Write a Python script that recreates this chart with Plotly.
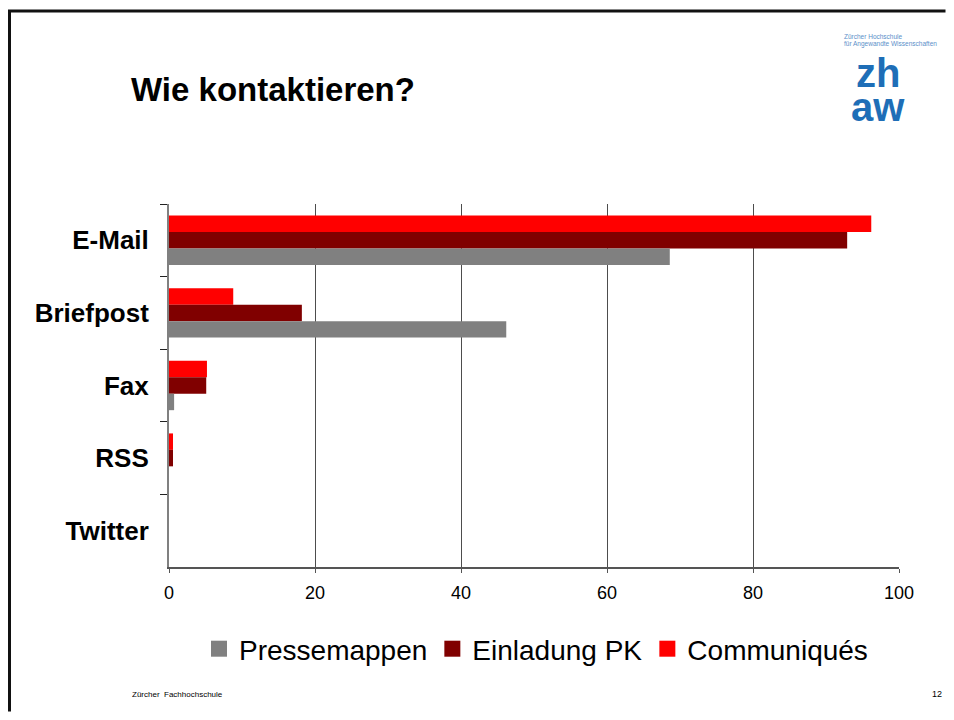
import plotly.graph_objects as go

categories = ["E-Mail", "Briefpost", "Fax", "RSS", "Twitter"]
series_names = ["Pressemappen", "Einladung PK", "Communiqués"]
pressemappen = [68.6, 46.2, 0.7, 0.0, 0.0]
einladung_pk = [92.9, 18.2, 5.1, 0.55, 0.0]
communiques = [96.2, 8.8, 5.2, 0.55, 0.0]
colors = ["#808080", "#800000", "#FF0000"]
x_ticks = [0, 20, 40, 60, 80, 100]

# the page body has an 8px margin; work in window pixels and convert
OFF = 8
W, H = 954 - 2 * OFF, 720 - 2 * OFF
L, R, T, B = 169, 899, 204, 567  # plot area in window pixels
PW, PH = R - L, B - T


def px(x):
    return (x - L) / PW


def py(y):
    return 1 - (y - T) / PH


FONT = "Liberation Sans, Arial, sans-serif"

fig = go.Figure()
# with reversed category axis the first trace sits at the top of each group
series = list(zip(series_names, [pressemappen, einladung_pk, communiques], colors))
for name, vals, col in reversed(series):
    fig.add_trace(go.Bar(y=categories, x=vals, name=name, orientation="h",
                         marker=dict(color=col, line=dict(width=0)), showlegend=False))
for name, vals, col in series:
    fig.add_trace(go.Scatter(y=[categories[0]], x=[None], name=name, mode="markers",
                             marker=dict(symbol="square", size=16, color=col),
                             showlegend=True, hoverinfo="skip"))

fig.update_layout(
    width=W, height=H,
    margin=dict(l=L - OFF, r=W - (R - OFF), t=T - OFF, b=H - (B - OFF), pad=0),
    paper_bgcolor="white", plot_bgcolor="white",
    barmode="group", bargap=0.32, bargroupgap=0,
    font=dict(family=FONT, color="black"),
    showlegend=True,
    legend=dict(orientation="h", x=px(536), y=py(649), xanchor="center", yanchor="middle",
                font=dict(size=28, family=FONT, color="black"), itemclick=False,
                traceorder="normal", bgcolor="rgba(0,0,0,0)"),
    xaxis=dict(range=[0, 100], tickvals=x_ticks, ticktext=[str(v) for v in x_ticks],
               showgrid=True, gridcolor="#4d4d4d", gridwidth=1,
               showline=True, linecolor="#555555", linewidth=1.5,
               ticks="outside", ticklen=4, tickcolor="#555555",
               tickfont=dict(size=18, family=FONT, color="black"), zeroline=False,
               ticklabelstandoff=5, fixedrange=True),
    yaxis=dict(categoryorder="array", categoryarray=categories, autorange="reversed",
               showgrid=False, showline=True, linecolor="#808080", linewidth=2,
               ticks="outside", ticklen=7, tickcolor="#222222", tickson="boundaries",
               tickfont=dict(size=26, family=FONT, color="black", weight="bold"),
               ticklabelstandoff=13, zeroline=False, fixedrange=True),
)

annotations = [
    dict(text="<b>Wie kontaktieren?</b>", x=px(129), y=py(89), xanchor="left", yanchor="middle",
         font=dict(size=33, family=FONT, color="black")),
    dict(text="Zürcher Hochschule", x=px(842), y=py(36), xanchor="left", yanchor="middle",
         font=dict(size=6.5, family=FONT, color="#5b8fc9")),
    dict(text="für Angewandte Wissenschaften", x=px(842), y=py(44), xanchor="left", yanchor="middle",
         font=dict(size=6.5, family=FONT, color="#5b8fc9")),
    dict(text="<b>zh</b>", x=px(878), y=py(73), xanchor="center", yanchor="middle",
         height=34, valign="middle",
         font=dict(size=40, family=FONT, color="#1e6eb7")),
    dict(text="<b>aw</b>", x=px(878), y=py(107), xanchor="center", yanchor="middle",
         height=34, valign="middle",
         font=dict(size=40, family=FONT, color="#1e6eb7")),
    dict(text="Zürcher  Fachhochschule", x=px(130), y=py(694), xanchor="left", yanchor="middle",
         font=dict(size=8, family=FONT, color="black")),
    dict(text="12", x=px(944), y=py(694), xanchor="right", yanchor="middle",
         font=dict(size=9, family=FONT, color="black")),
]
for a in annotations:
    a.update(xref="paper", yref="paper", showarrow=False)
fig.update_layout(annotations=annotations)

fig.update_layout(shapes=[
    dict(type="line", xref="paper", yref="paper", x0=px(8), x1=px(945.5), y0=py(11), y1=py(11),
         line=dict(color="#111111", width=3)),
    dict(type="line", xref="paper", yref="paper", x0=px(9.5), x1=px(9.5), y0=py(10), y1=py(711.5),
         line=dict(color="#111111", width=3)),
])

fig.write_html("out.html")
